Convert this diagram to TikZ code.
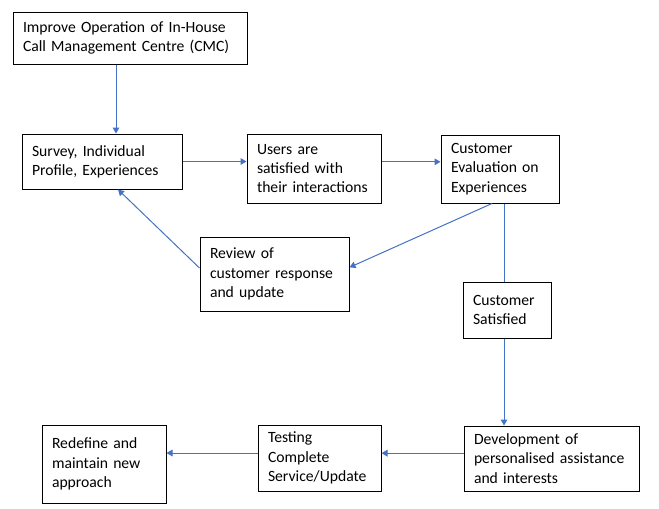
\documentclass[tikz,border=0pt]{standalone}
\usepackage{fontspec}
\setmainfont{Carlito}
\usetikzlibrary{arrows.meta}
\definecolor{flowblue}{RGB}{68,114,196}

\begin{document}
\begin{tikzpicture}
        [x=0.75pt,y=-0.75pt,every node/.style={draw,shape=rectangle,align=left,inner xsep=7.5pt,inner ysep=0pt,font=\fontsize{11.75}{14.4}\selectfont}, every path/.style={line width=0.75pt}, flow/.style={draw=flowblue,-{Triangle[length=4.5pt,width=5pt]}}]

        \useasboundingbox (0,0) rectangle (659,508);

        \node[text width=160.5pt,minimum height=39pt] (b1) at (130,38) {Improve Operation of In-House\\Call Management Centre (CMC)};
        \node[text width=105pt,minimum height=41.25pt] (b2) at (102,161.5) {Survey, Individual\\Profile, Experiences};
        \node[text width=85.5pt,minimum height=51.75pt] (b3) at (314,168.5) {Users are\\satisfied with\\their interactions};
        \node[text width=73.5pt,minimum height=51pt] (b4) at (500,169) {Customer\\Evaluation on\\Experiences};
        \node[text width=96.75pt,minimum height=55.5pt] (b5) at (274.5,274) {Review of\\customer response\\and update};
        \node[text width=51pt,minimum height=42pt] (b6) at (507,310) {Customer\\Satisfied};
        \node[text width=78pt,minimum height=58.5pt] (b7) at (104,464) {Redefine and\\maintain new\\approach};
        \node[text width=77.25pt,minimum height=49.5pt] (b8) at (319.5,458) {Testing\\Complete\\Service/Update};
        \node[text width=116.25pt,minimum height=48.75pt] (b9) at (551.5,458.5) {Development of\\personalised assistance\\and interests};

        \draw[flow] ([xshift=-10.5pt]b1.south) -- ([xshift=-10.5pt]b1.south |- b2.north);
        \draw[flow] (b2.east) -- (b2.east -| b3.west);
        \draw[flow] ([yshift=5pt]b3.east) -- ([yshift=5pt]b3.east -| b4.west);
        \draw[flow] ([xshift=-6pt]b4.south) -- ([yshift=5pt]b5.east);
        \draw[flow] ([yshift=4.5pt]b5.west) -- ([xshift=12pt]b2.south);
        \draw[draw=flowblue] ([xshift=3pt]b4.south) -- ([xshift=3pt]b4.south |- b6.north);
        \draw[flow] ([xshift=-2.25pt]b6.south) -- ([xshift=-2.25pt]b6.south |- b9.north);
        \draw[flow] ([yshift=4pt]b9.west) -- ([yshift=4pt]b9.west -| b8.east);
        \draw[flow] ([yshift=3.75pt]b8.west) -- ([yshift=3.75pt]b8.west -| b7.east);

      \end{tikzpicture}
\end{document}
